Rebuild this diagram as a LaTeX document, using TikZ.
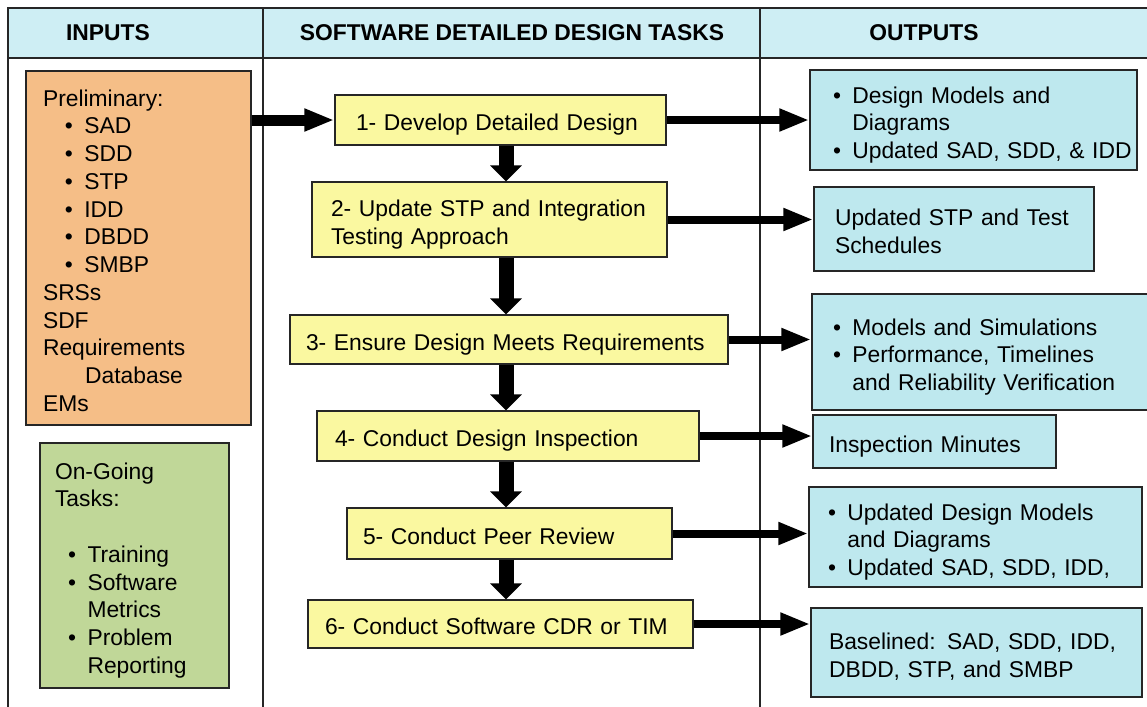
\documentclass[tikz,border=0pt]{standalone}
\usepackage{fontspec}
\setmainfont{Liberation Sans}
\usepackage{tikz}
\usetikzlibrary{arrows.meta}

\definecolor{headcyan}{RGB}{206,238,244}
\definecolor{outcyan}{RGB}{190,232,238}
\definecolor{taskyellow}{RGB}{250,248,160}
\definecolor{inorange}{RGB}{245,190,135}
\definecolor{ongreen}{RGB}{192,215,152}

\newcommand{\bul}{\makebox[11pt][l]{\textbullet}}
\newcommand{\ind}{\hspace*{11pt}}
\newcommand{\rows}[1]{\raisebox{-3pt}[\height][\depth]{\begin{tabular}{@{}l@{}}#1\end{tabular}}}

\begin{document}
\begin{tikzpicture}[x=0.02cm,y=-0.02cm,
	font=\fontsize{13pt}{15.8pt}\selectfont]
	\tikzstyle{frame}=[draw=black!85,line width=1.2pt]
	\tikzstyle{head}=[font=\fontsize{13pt}{15.8pt}\selectfont\bfseries]
	\tikzstyle{box}=[draw=black!85,line width=0.8pt,inner ysep=0pt,align=left]
	\tikzstyle{taskbox}=[box,fill=taskyellow]
	\tikzstyle{outbox}=[box,fill=outcyan]
	\tikzstyle{down}=[line width=0.3cm,-{Triangle[length=0.32cm,width=0.62cm]}]
	\tikzstyle{feed}=[line width=0.22cm,-{Triangle[length=0.6cm,width=0.42cm]}]
	\tikzstyle{result}=[line width=0.16cm,-{Triangle[length=0.6cm,width=0.42cm]}]
	\useasboundingbox (0,0) rectangle (1147,707);
	
	% table frame
	\fill[headcyan] (8,8) rectangle (1160,58);
	\draw[frame] (8,707) -- (8,8) -- (1160,8);
	\draw[frame] (8,58) -- (1160,58);
	\draw[frame] (263,8) -- (263,707);
	\draw[frame] (760,8) -- (760,707);
	\node[head] (Hin)   at (108,33) {INPUTS};
	\node[head] (Htask) at (512,33) {SOFTWARE DETAILED DESIGN TASKS};
	\node[head] (Hout)  at (924,33) {OUTPUTS};
	
	% inputs
	\node[box,fill=inorange,minimum height=7.08cm,text width=3.82cm,inner xsep=0.34cm] (P) at (138.5,248)
	{\rows{Preliminary:\\ \hspace{12.5pt}\bul SAD\\ \hspace{12.5pt}\bul SDD\\ \hspace{12.5pt}\bul STP\\
	\hspace{12.5pt}\bul IDD\\ \hspace{12.5pt}\bul DBDD\\ \hspace{12.5pt}\bul SMBP\\ SRSs\\ SDF\\
	Requirements\\ \hspace{24pt}Database\\ EMs}};
	\node[box,fill=ongreen,minimum height=4.9cm,text width=3.18cm,inner xsep=0.3cm] (G) at (134.5,565.5)
	{\rows{On-Going\\ Tasks:\\ \\ \hspace{7.5pt}\bul Training\\ \hspace{7.5pt}\bul Software\\
	\hspace{7.5pt}\ind Metrics\\ \hspace{7.5pt}\bul Problem\\ \hspace{7.5pt}\ind Reporting}};
	
	% tasks
	\node[taskbox,minimum height=1cm,text width=5.78cm,inner xsep=0.42cm] (T1) at (500.5,120)
	{\rows{1- Develop Detailed Design}};
	\node[taskbox,minimum height=1.5cm,text width=6.34cm,inner xsep=0.38cm] (T2) at (489.5,219.5)
	{\rows{2- Update STP and Integration\\ Testing Approach}};
	\node[taskbox,minimum height=0.98cm,text width=8.12cm,inner xsep=0.32cm] (T3) at (509,339.5)
	{\rows{3- Ensure Design Meets Requirements}};
	\node[taskbox,minimum height=1cm,text width=6.92cm,inner xsep=0.36cm] (T4) at (508,436)
	{\rows{4- Conduct Design Inspection}};
	\node[taskbox,minimum height=1.02cm,text width=5.86cm,inner xsep=0.32cm] (T5) at (509.5,533.5)
	{\rows{5- Conduct Peer Review}};
	\node[taskbox,minimum height=0.96cm,text width=7.02cm,inner xsep=0.34cm] (T6) at (500.5,624)
	{\rows{6- Conduct Software CDR or TIM}};
	
	% outputs
	\node[outbox,minimum height=2cm,text width=5.62cm,inner xsep=0.46cm] (O1) at (973.5,120)
	{\rows{\bul Design Models and\\ \ind Diagrams\\ \bul Updated SAD, SDD, \& IDD}};
	\node[outbox,minimum height=1.68cm,text width=4.76cm,inner xsep=0.42cm] (O2) at (954,229)
	{\rows{Updated STP and Test\\ Schedules}};
	\node[outbox,minimum height=2.32cm,text width=5.96cm,inner xsep=0.42cm] (O3) at (982,352)
	{\rows{\bul Models and Simulations\\ \bul Performance, Timelines\\ \ind and Reliability Verification}};
	\node[outbox,minimum height=1.06cm,text width=4.22cm,inner xsep=0.32cm] (O4) at (934.5,441.5)
	{\rows{Inspection Minutes}};
	\node[outbox,minimum height=2cm,text width=5.9cm,inner xsep=0.38cm] (O5) at (975.5,537)
	{\rows{\bul Updated Design Models\\ \ind and Diagrams\\ \bul Updated SAD, SDD, IDD,}};
	\node[outbox,minimum height=1.78cm,text width=5.9cm,inner xsep=0.36cm] (O6) at (976.5,652.5)
	{\rows{Baselined: SAD, SDD, IDD,\\ DBDD, STP, and SMBP}};
	
	% arrows
	\coordinate (spine) at (506,0);
	\draw[feed] (T1.west -| P.east) -- (T1.west);
	\draw[down] (T1.south -| spine) -- (T2.north -| spine);
	\draw[down] (T2.south -| spine) -- (T3.north -| spine);
	\draw[down] (T3.south -| spine) -- (T4.north -| spine);
	\draw[down] (T4.south -| spine) -- (T5.north -| spine);
	\draw[down] (T5.south -| spine) -- (T6.north -| spine);
	\foreach \i in {1,...,6}
		\draw[result] (T\i.east) -- (T\i.east -| O\i.west);
\end{tikzpicture}
\end{document}
